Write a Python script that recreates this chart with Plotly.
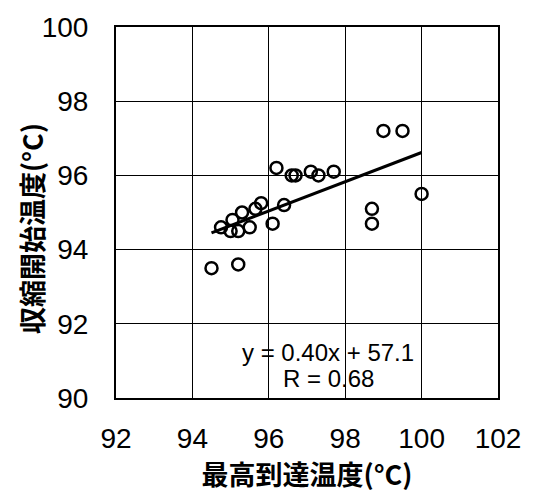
import numpy as np
import plotly.graph_objects as go

# Peak temperature reached (°C) vs. shrinkage onset temperature (°C)
peak_temp = [94.5, 95.2, 94.75, 95.0, 95.2, 95.05, 95.3, 95.5, 95.65, 95.8, 96.1, 96.2,
             96.4, 96.6, 96.7, 97.1, 97.3, 97.7, 98.7, 98.7, 99.0, 99.5, 100.0]
onset_temp = [93.5, 93.6, 94.6, 94.5, 94.5, 94.8, 95.0, 94.6, 95.1, 95.25, 94.7, 96.2,
              95.2, 96.0, 96.0, 96.1, 96.0, 96.1, 95.1, 94.7, 97.2, 97.2, 95.5]

x_ticks = [92, 94, 96, 98, 100, 102]
y_ticks = [90, 92, 94, 96, 98, 100]

eq_label = "y = 0.40x + 57.1"
r_label = "R = 0.68"

# Linear trend line fitted to the measurements
xs = np.array(peak_temp)
ys = np.array(onset_temp)
slope, intercept = np.polyfit(xs, ys, 1)
fit_x = np.array([xs.min(), xs.max()])
fit_y = slope * fit_x + intercept

num_font = "Liberation Sans, Arial, sans-serif"
jp_font = "Noto Sans CJK JP, sans-serif"

fig = go.Figure()
fig.add_trace(go.Scatter(
    x=fit_x, y=fit_y, mode="lines",
    line=dict(color="black", width=3), showlegend=False, hoverinfo="skip",
))
fig.add_trace(go.Scatter(
    x=peak_temp, y=onset_temp, mode="markers",
    marker=dict(symbol="circle-open", size=12, color="black",
                line=dict(color="black", width=2.5)),
    showlegend=False,
))

fig.add_annotation(x=97.54, y=91.22, xref="x", yref="y", text=eq_label,
                   showarrow=False, font=dict(family=num_font, size=24, color="black"))
fig.add_annotation(x=97.57, y=90.53, xref="x", yref="y", text=r_label,
                   showarrow=False, font=dict(family=num_font, size=24, color="black"))

# Vertical axis title placed beside the tick labels
fig.add_annotation(x=-0.2228, y=0.4577, xref="paper", yref="paper",
                   text="収縮開始温度(°C)", textangle=-90, showarrow=False,
                   xanchor="center", yanchor="middle",
                   font=dict(family=jp_font, size=27, color="black", weight="bold"))

axis_common = dict(
    showgrid=True, gridcolor="black", gridwidth=1.3,
    showline=True, linecolor="black", linewidth=2, mirror=True,
    zeroline=False, ticks="",
    tickfont=dict(family=num_font, size=28, color="black"),
)

fig.update_xaxes(
    range=[92, 102], tickvals=x_ticks, ticklabelstandoff=14,
    title=dict(text="最高到達温度(°C)",
               font=dict(family=jp_font, size=27, color="black", weight="bold"),
               standoff=8),
    **axis_common,
)
fig.update_yaxes(
    range=[90, 100], tickvals=y_ticks, ticklabelstandoff=20,
    **axis_common,
)

fig.update_layout(
    width=533, height=497,
    margin=dict(l=116, r=31, t=20, b=99),
    plot_bgcolor="white", paper_bgcolor="white",
)

fig.write_html("out.html")
